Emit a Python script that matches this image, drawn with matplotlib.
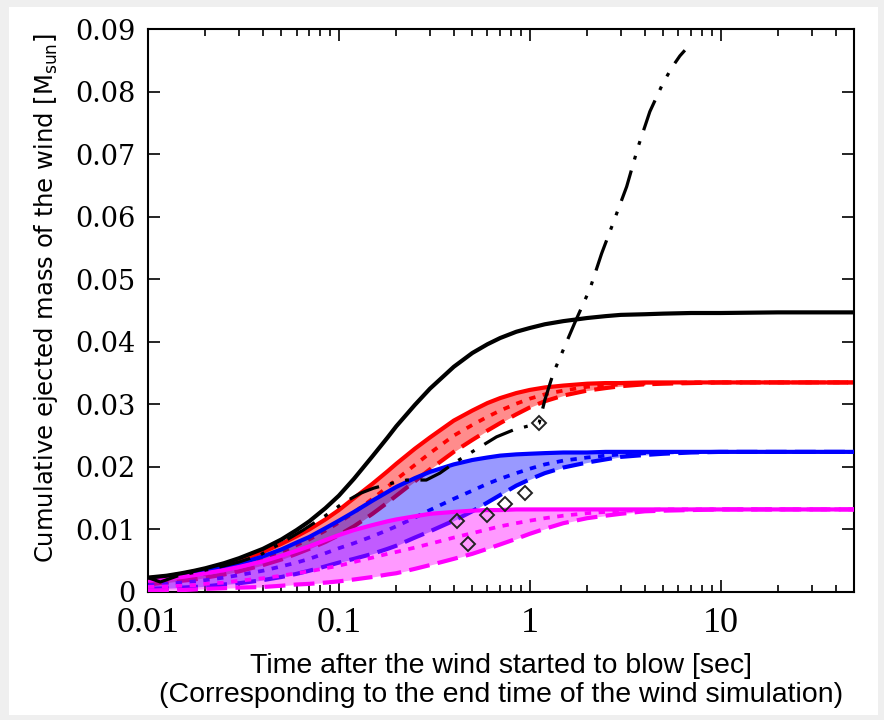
import matplotlib
matplotlib.use("Agg")
import matplotlib.pyplot as plt
from matplotlib.patches import Rectangle
from matplotlib.ticker import NullFormatter, LogLocator

# time after the wind started to blow [sec]
t = [0.01, 0.0125, 0.015, 0.0175, 0.02, 0.025, 0.03, 0.04, 0.05, 0.06, 0.07, 0.085,
     0.1, 0.12, 0.15, 0.18, 0.2, 0.25, 0.3, 0.4, 0.5, 0.6, 0.7, 0.85,
     1, 1.2, 1.5, 2, 2.5, 3, 4, 5, 7, 10, 20, 50]

# cumulative ejected mass [Msun]
black_solid = [0.0023, 0.0026, 0.0030, 0.0034, 0.0038, 0.0046, 0.0054, 0.0069, 0.0084, 0.0099, 0.0113, 0.0134,
               0.0154, 0.0181, 0.0217, 0.0247, 0.0265, 0.0299, 0.0325, 0.0360, 0.0382, 0.0396, 0.0406, 0.0416,
               0.0422, 0.0428, 0.0433, 0.0438, 0.0441, 0.0443, 0.0444, 0.0445, 0.0446, 0.0446, 0.0447, 0.0447]

red_solid = [0.0022, 0.0025, 0.0029, 0.0033, 0.0036, 0.0043, 0.0050, 0.0064, 0.0077, 0.0089, 0.0100, 0.0116,
             0.0131, 0.0150, 0.0173, 0.0193, 0.0205, 0.0229, 0.0247, 0.0274, 0.0290, 0.0302, 0.0310, 0.0318,
             0.0323, 0.0327, 0.0330, 0.0333, 0.0334, 0.0334, 0.0335, 0.0335, 0.0335, 0.0335, 0.0335, 0.0335]
red_dotted = [0.0017, 0.0020, 0.0023, 0.0026, 0.0029, 0.0035, 0.0041, 0.0053, 0.0064, 0.0075, 0.0084, 0.0098,
              0.0111, 0.0127, 0.0149, 0.0168, 0.0180, 0.0203, 0.0222, 0.0250, 0.0267, 0.0280, 0.0290, 0.0301,
              0.0309, 0.0316, 0.0322, 0.0328, 0.0330, 0.0332, 0.0333, 0.0334, 0.0335, 0.0335, 0.0335, 0.0335]
red_dashed = [0.0012, 0.0015, 0.0018, 0.0020, 0.0023, 0.0028, 0.0033, 0.0043, 0.0052, 0.0061, 0.0069, 0.0080,
              0.0091, 0.0105, 0.0125, 0.0143, 0.0154, 0.0177, 0.0196, 0.0224, 0.0243, 0.0258, 0.0270, 0.0284,
              0.0295, 0.0305, 0.0314, 0.0322, 0.0326, 0.0329, 0.0332, 0.0333, 0.0334, 0.0335, 0.0335, 0.0335]

blue_solid = [0.0021, 0.0024, 0.0027, 0.0030, 0.0033, 0.0039, 0.0045, 0.0057, 0.0068, 0.0079, 0.0088, 0.0102,
              0.0114, 0.0128, 0.0146, 0.0160, 0.0168, 0.0182, 0.0192, 0.0204, 0.0211, 0.0215, 0.0218, 0.0220,
              0.0221, 0.0222, 0.0223, 0.0223, 0.0224, 0.0224, 0.0224, 0.0224, 0.0224, 0.0224, 0.0224, 0.0224]
blue_dotted = [0.0011, 0.0013, 0.0015, 0.0017, 0.0019, 0.0023, 0.0027, 0.0034, 0.0041, 0.0047, 0.0053, 0.0062,
               0.0070, 0.0078, 0.0089, 0.0099, 0.0105, 0.0119, 0.0131, 0.0149, 0.0162, 0.0173, 0.0181, 0.0190,
               0.0197, 0.0204, 0.0210, 0.0215, 0.0218, 0.0220, 0.0222, 0.0223, 0.0224, 0.0224, 0.0224, 0.0224]
blue_dashed = [0.0005, 0.0006, 0.0007, 0.0008, 0.0009, 0.0012, 0.0014, 0.0019, 0.0024, 0.0029, 0.0034, 0.0041,
               0.0047, 0.0053, 0.0061, 0.0069, 0.0074, 0.0087, 0.0097, 0.0114, 0.0129, 0.0143, 0.0155, 0.0170,
               0.0180, 0.0190, 0.0199, 0.0207, 0.0212, 0.0216, 0.0219, 0.0221, 0.0223, 0.0224, 0.0224, 0.0224]

magenta_solid = [0.0018, 0.0021, 0.0024, 0.0027, 0.0030, 0.0035, 0.0040, 0.0049, 0.0058, 0.0066, 0.0073, 0.0083,
                 0.0091, 0.0099, 0.0107, 0.0113, 0.0116, 0.0121, 0.0125, 0.0128, 0.0130, 0.0131, 0.0131, 0.0132,
                 0.0132, 0.0132, 0.0132, 0.0132, 0.0132, 0.0132, 0.0132, 0.0132, 0.0132, 0.0132, 0.0132, 0.0132]
magenta_dotted = [0.0008, 0.0009, 0.0010, 0.0011, 0.0013, 0.0015, 0.0018, 0.0022, 0.0026, 0.0030, 0.0033, 0.0038,
                  0.0042, 0.0048, 0.0055, 0.0061, 0.0064, 0.0071, 0.0077, 0.0087, 0.0094, 0.0100, 0.0105, 0.0110,
                  0.0114, 0.0118, 0.0122, 0.0126, 0.0128, 0.0130, 0.0131, 0.0132, 0.0132, 0.0132, 0.0132, 0.0132]
magenta_dashed = [0.0002, 0.0003, 0.0003, 0.0004, 0.0005, 0.0006, 0.0007, 0.0008, 0.0010, 0.0012, 0.0013, 0.0015,
                  0.0017, 0.0020, 0.0024, 0.0028, 0.0030, 0.0037, 0.0043, 0.0053, 0.0061, 0.0069, 0.0076, 0.0085,
                  0.0093, 0.0101, 0.0110, 0.0118, 0.0122, 0.0125, 0.0129, 0.0130, 0.0131, 0.0132, 0.0132, 0.0132]

# simulation curve (dash-dot-dot)
sim_t = [0.01, 0.0116, 0.0147, 0.018, 0.023, 0.030, 0.0386, 0.053, 0.065, 0.085, 0.105, 0.13, 0.152,
         0.19, 0.227, 0.287, 0.338, 0.41, 0.55, 0.67, 0.82, 1.0, 1.12, 1.2, 1.33, 1.72, 2.07, 2.38,
         2.69, 3.22, 3.70, 4.26, 5.0, 5.6, 6.12, 6.5]
sim_m = [0.0023, 0.0016, 0.0027, 0.0032, 0.0039, 0.0048, 0.0059, 0.0083, 0.0099, 0.0122, 0.0142, 0.0158,
         0.0166, 0.0174, 0.0179, 0.0179, 0.0190, 0.0208, 0.0232, 0.0248, 0.0259, 0.0266, 0.0270, 0.0307,
         0.0350, 0.0430, 0.0485, 0.0541, 0.0584, 0.0648, 0.0712, 0.0768, 0.0814, 0.0840, 0.0857, 0.0866]

# diamonds
dia_t = [0.414, 0.476, 0.594, 0.741, 0.944, 1.12]
dia_m = [0.0114, 0.0077, 0.0123, 0.0141, 0.0158, 0.0270]

xtick_vals = [0.01, 0.1, 1, 10]
xtick_labels = ["0.01", "0.1", "1", "10"]
ytick_vals = [0, 0.01, 0.02, 0.03, 0.04, 0.05, 0.06, 0.07, 0.08, 0.09]
ytick_labels = ["0", "0.01", "0.02", "0.03", "0.04", "0.05", "0.06", "0.07", "0.08", "0.09"]

W, H = 884, 720
fig = plt.figure(figsize=(W / 100, H / 100), dpi=100, facecolor="#efefef")
fig.patches.append(Rectangle((9 / W, 5 / H), 869 / W, 708 / H, transform=fig.transFigure,
                             facecolor="white", edgecolor="none", zorder=-10))
ax = fig.add_axes([148 / W, (H - 592) / H, 706 / W, 563 / H])
ax.set_facecolor("white")

lw = 3.0
dash = (5, 2)
dot = (1.7, 2)

groups = [("red", red_solid, red_dotted, red_dashed, 0.45),
          ("blue", blue_solid, blue_dotted, blue_dashed, 0.4),
          ("magenta", magenta_solid, magenta_dotted, magenta_dashed, 0.4)]
z = 1
for col, hi, mid, lo, a in groups:
    ax.fill_between(t, lo, hi, color=col, alpha=a, lw=0, zorder=z)
    ax.plot(t, hi, color=col, lw=lw, zorder=z + 1)
    ax.plot(t, mid, color=col, lw=lw * 0.9, dashes=dot, zorder=z + 1)
    ax.plot(t, lo, color=col, lw=lw, dashes=dash, zorder=z + 1)
    z += 2

ax.plot(t, black_solid, color="black", lw=lw, zorder=10)
ax.plot(sim_t, sim_m, color="black", lw=2.3, dashes=(10, 3.6, 1.2, 3.6, 1.2, 3.6), zorder=11)
ax.plot(dia_t, dia_m, ls="none", marker="D", ms=7.5, mfc="none", mec="#222222", mew=1.4,
        zorder=12)

ax.set_xscale("log")
ax.set_xlim(0.01, 50)
ax.set_ylim(0, 0.09)
ax.set_xticks(xtick_vals)
ax.set_xticklabels(xtick_labels, family="Liberation Serif", fontsize=26)
ax.xaxis.set_minor_locator(LogLocator(base=10, subs=range(2, 10), numticks=20))
ax.xaxis.set_minor_formatter(NullFormatter())
ax.set_yticks(ytick_vals)
ax.set_yticklabels(ytick_labels, family="DejaVu Serif", fontsize=19.5)

ax.tick_params(which="both", direction="in", top=True, right=True, width=1.2)
ax.tick_params(which="major", length=8.5)
ax.tick_params(which="minor", length=5)
ax.tick_params(axis="x", pad=11)
ax.tick_params(axis="y", pad=9)
for s in ax.spines.values():
    s.set_linewidth(1.5)

ax.set_xlabel("Time after the wind started to blow [sec]\n"
              "(Corresponding to the end time of the wind simulation)",
              family="Liberation Sans", fontsize=20.5, linespacing=1.15, labelpad=9)
ax.set_ylabel(r"Cumulative ejected mass of the wind [M$_{\mathregular{sun}}$]",
              family="DejaVu Sans", fontsize=17.5)
ax.yaxis.set_label_coords(-0.125, 0.522)

fig.savefig("out.png", dpi=100, facecolor=fig.get_facecolor())
